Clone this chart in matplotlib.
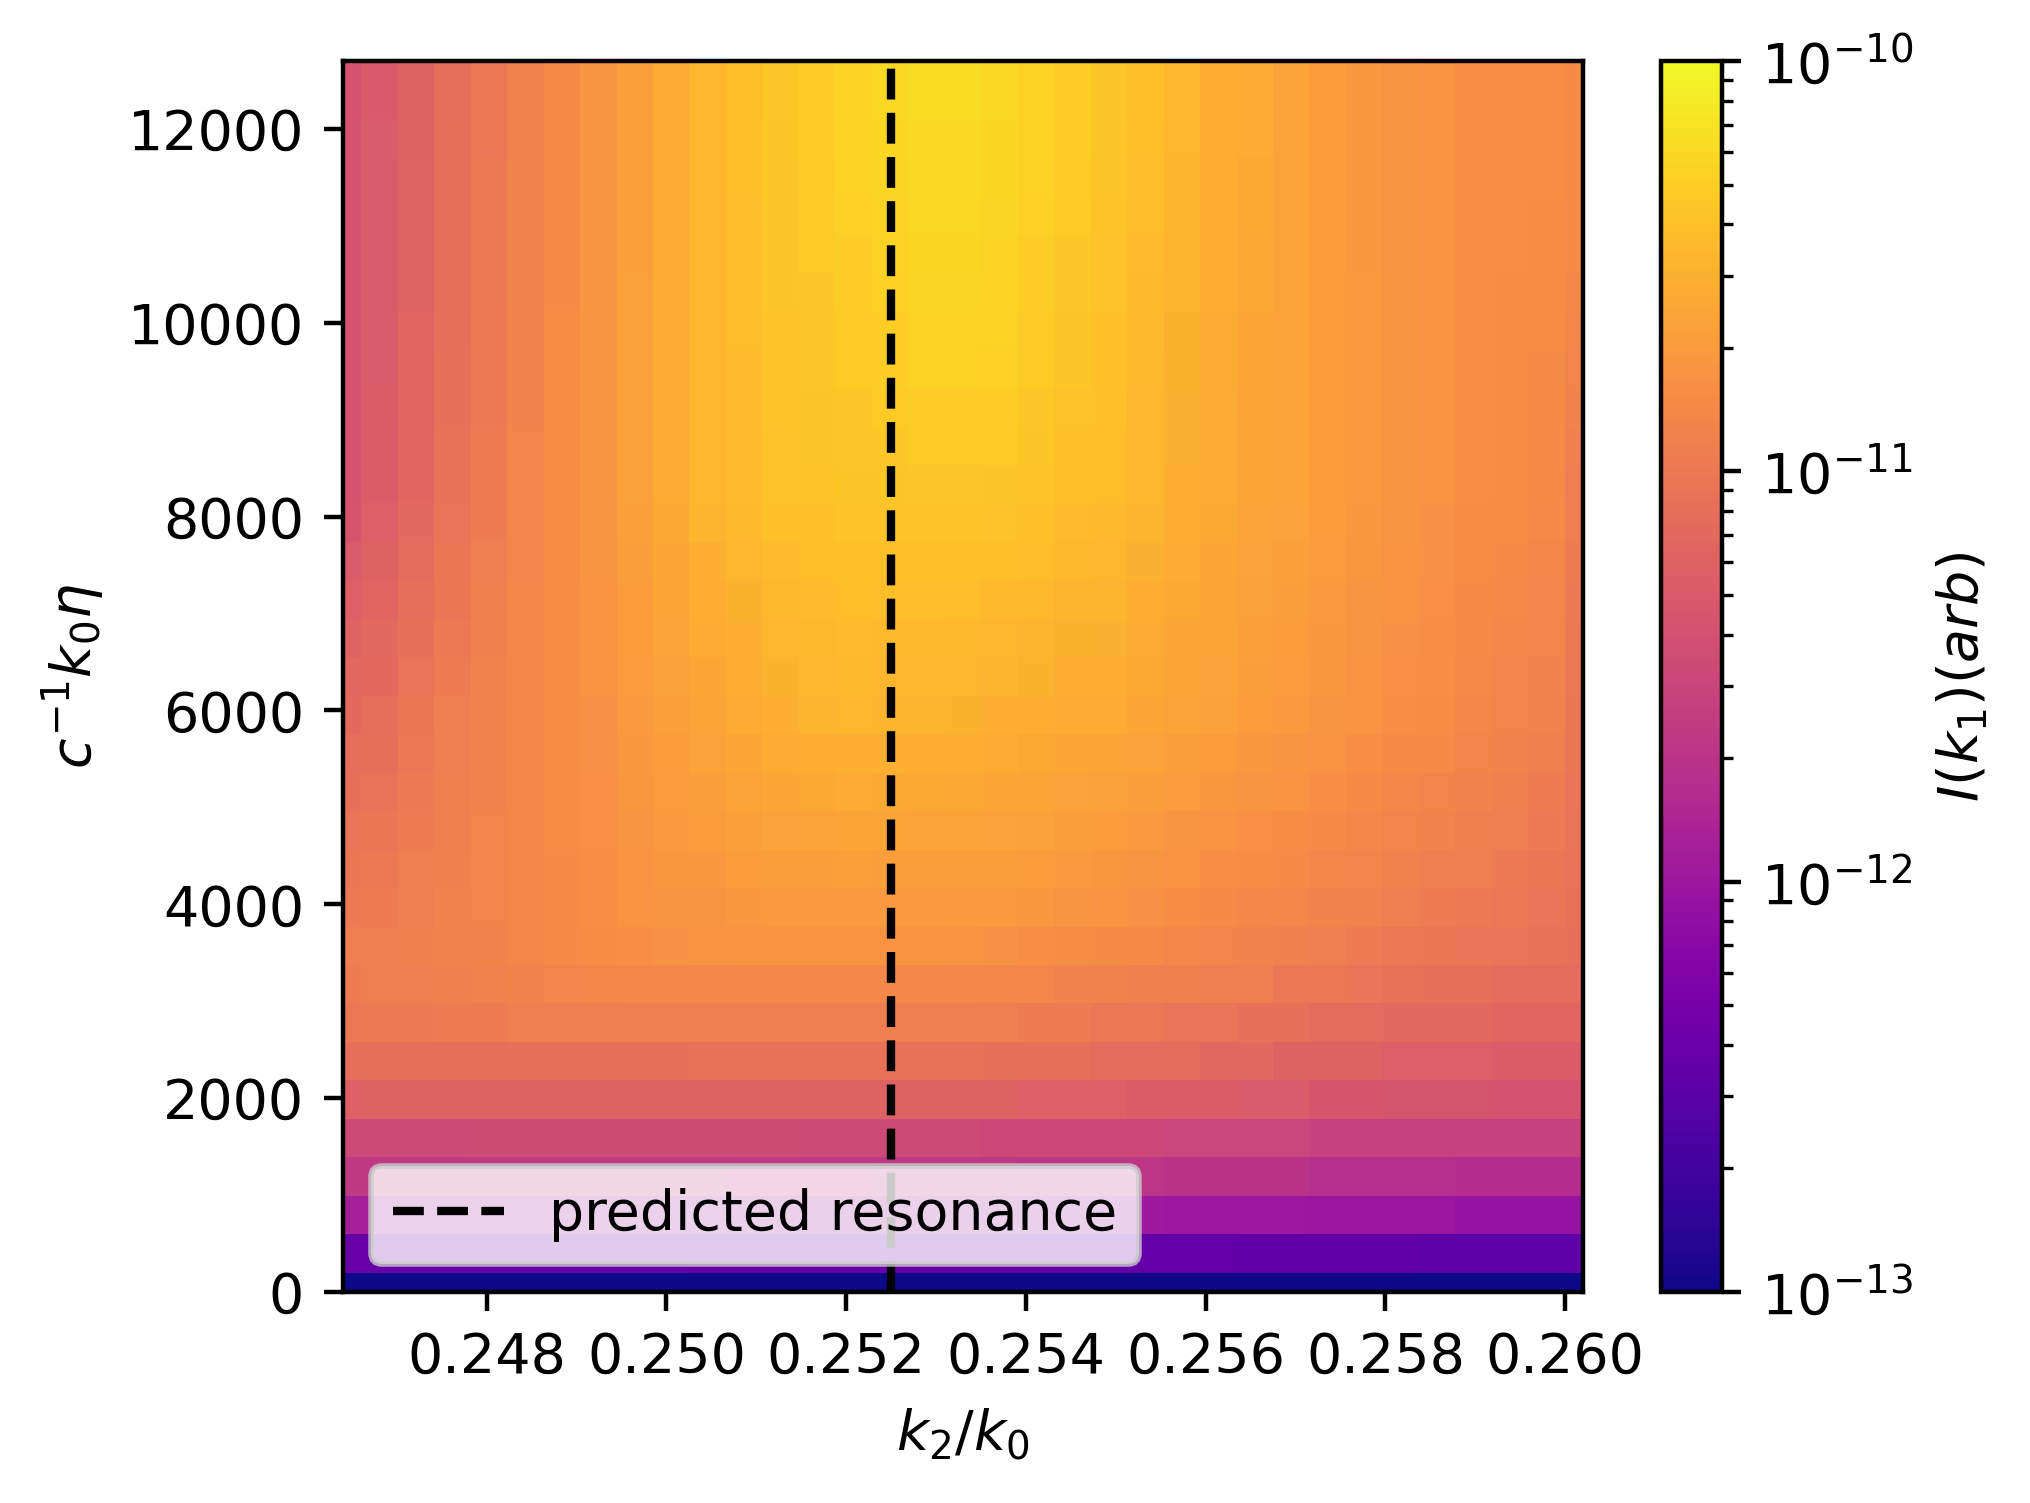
import numpy as np
import matplotlib
matplotlib.use("Agg")
import matplotlib.pyplot as plt
from matplotlib.colors import LogNorm

# x: k2/k0 cell centres, y: c^-1 k0 eta cell centres
k2_over_k0 = [0.246400, 0.246806, 0.247212, 0.247618, 0.248024, 0.248429, 0.248835,
              0.249241, 0.249647, 0.250053, 0.250459, 0.250865, 0.251271, 0.251676,
              0.252082, 0.252488, 0.252894, 0.253300, 0.253706, 0.254112, 0.254518,
              0.254924, 0.255329, 0.255735, 0.256141, 0.256547, 0.256953, 0.257359,
              0.257765, 0.258171, 0.258576, 0.258982, 0.259388, 0.259794, 0.260200]
eta = [0, 397, 794, 1191, 1588, 1984, 2381, 2778, 3175, 3572, 3969, 4366, 4763,
       5159, 5556, 5953, 6350, 6747, 7144, 7541, 7938, 8334, 8731, 9128, 9525,
       9922, 10319, 10716, 11113, 11509, 11906, 12303, 12700]

predicted_resonance = 0.2525

# log10 of intensity I(k1), one row per eta value (bottom to top)
log10_I = [
    [-13.0] * 35,
    [-12.43] * 10 + [-12.44] * 7 + [-12.46] * 8 + [-12.47] * 5 + [-12.49] * 5,
    [-11.92] * 6 + [-11.94] * 5 + [-11.95] * 4 + [-11.96] + [-11.95] * 3 + [-11.97] * 4
    + [-12.00] * 4 + [-12.01] * 4 + [-12.04] * 4,
    [-11.64] * 11 + [-11.65] * 4 + [-11.66] * 4 + [-11.68] * 4 + [-11.71] * 4
    + [-11.75] * 4 + [-11.77] * 4,
    [-11.47] * 4 + [-11.46] * 9 + [-11.47] * 5 + [-11.49] * 5 + [-11.52] * 4
    + [-11.55] * 4 + [-11.56] * 4,
    [-11.25] + [-11.23] * 4 + [-11.22] * 9 + [-11.23] * 5 + [-11.25] * 3 + [-11.28] * 3
    + [-11.29] * 2 + [-11.34] * 2 + [-11.37] * 3 + [-11.38] * 3,
    [-11.10] * 5 + [-11.08] * 5 + [-11.07] * 8 + [-11.08] * 3 + [-11.13] * 3
    + [-11.17] * 2 + [-11.22] * 3 + [-11.26] * 3 + [-11.28] * 3,
    [-11.01] + [-10.99] * 2 + [-10.98] * 2 + [-10.96] * 14 + [-10.98] * 2 + [-11.01] * 2
    + [-11.05] * 2 + [-11.08] * 2 + [-11.13] * 2 + [-11.16] * 3 + [-11.19] * 3,
    [-10.98, -10.96, -10.95, -10.93, -10.92, -10.90, -10.89, -10.87] + [-10.86] * 10
    + [-10.87] * 2 + [-10.90] * 2 + [-10.93] * 2 + [-10.96] * 2 + [-11.01] * 2
    + [-11.04, -11.07, -11.08, -11.08, -11.13, -11.13, -11.13],
    [-10.96, -10.95, -10.93, -10.92, -10.90, -10.87, -10.84, -10.81, -10.80, -10.78,
     -10.77, -10.76, -10.76, -10.76, -10.76, -10.76, -10.76, -10.77, -10.78, -10.80,
     -10.81, -10.83, -10.84, -10.87, -10.89, -10.90, -10.93, -10.95, -10.98, -11.01,
     -11.02, -11.04, -11.05, -11.07, -11.08],
    [-10.99, -10.98, -10.95, -10.92, -10.89, -10.86, -10.83, -10.80, -10.77, -10.75,
     -10.74, -10.72, -10.71, -10.71, -10.71, -10.71, -10.71, -10.71, -10.71, -10.72,
     -10.75, -10.77, -10.78, -10.81, -10.84, -10.86, -10.87, -10.90, -10.92, -10.95,
     -10.98, -10.99, -11.01, -11.04, -11.07],
    [-11.02, -11.00, -10.96, -10.93, -10.89, -10.86, -10.83, -10.80, -10.76, -10.73,
     -10.72, -10.69, -10.67, -10.67, -10.66, -10.67, -10.67, -10.67, -10.67, -10.68,
     -10.71, -10.73, -10.74, -10.77, -10.80, -10.82, -10.84, -10.87, -10.89, -10.92,
     -10.95, -10.96, -10.99, -11.02, -11.06],
    [-11.05, -11.03, -10.98, -10.94, -10.89, -10.86, -10.82, -10.79, -10.75, -10.71,
     -10.69, -10.66, -10.64, -10.63, -10.62, -10.62, -10.63, -10.63, -10.64, -10.65,
     -10.67, -10.69, -10.71, -10.74, -10.76, -10.79, -10.81, -10.84, -10.86, -10.89,
     -10.91, -10.94, -10.96, -10.99, -11.05],
    [-11.08, -11.06, -10.99, -10.94, -10.90, -10.86, -10.82, -10.79, -10.73, -10.70,
     -10.67, -10.63, -10.60, -10.58, -10.57, -10.58, -10.58, -10.59, -10.60, -10.61,
     -10.64, -10.65, -10.67, -10.70, -10.73, -10.75, -10.77, -10.80, -10.83, -10.86,
     -10.88, -10.91, -10.94, -10.97, -11.04],
    [-11.11, -11.09, -11.01, -10.95, -10.90, -10.86, -10.81, -10.78, -10.72, -10.68,
     -10.64, -10.60, -10.57, -10.54, -10.53, -10.53, -10.54, -10.55, -10.57, -10.58,
     -10.60, -10.61, -10.64, -10.67, -10.69, -10.72, -10.74, -10.77, -10.80, -10.83,
     -10.84, -10.89, -10.91, -10.94, -11.03],
    [-11.14, -11.11, -11.02, -10.96, -10.90, -10.86, -10.81, -10.78, -10.71, -10.66,
     -10.62, -10.57, -10.53, -10.50, -10.48, -10.49, -10.50, -10.51, -10.53, -10.54,
     -10.56, -10.57, -10.60, -10.63, -10.65, -10.68, -10.71, -10.74, -10.77, -10.80,
     -10.81, -10.86, -10.89, -10.92, -11.02],
    [-11.17, -11.14, -11.05, -10.98, -10.91, -10.86, -10.81, -10.77, -10.70, -10.65,
     -10.60, -10.55, -10.51, -10.48, -10.46, -10.47, -10.48, -10.48, -10.50, -10.51,
     -10.54, -10.55, -10.58, -10.61, -10.64, -10.67, -10.70, -10.73, -10.76, -10.79,
     -10.80, -10.85, -10.88, -10.91, -11.01],
    [-11.21, -11.17, -11.08, -11.00, -10.93, -10.87, -10.81, -10.77, -10.69, -10.63,
     -10.57, -10.53, -10.48, -10.46, -10.44, -10.45, -10.45, -10.46, -10.47, -10.49,
     -10.51, -10.52, -10.56, -10.60, -10.62, -10.66, -10.68, -10.72, -10.75, -10.78,
     -10.80, -10.84, -10.86, -10.89, -11.00],
    [-11.26, -11.20, -11.11, -11.02, -10.94, -10.87, -10.81, -10.76, -10.68, -10.62,
     -10.55, -10.51, -10.46, -10.44, -10.42, -10.43, -10.43, -10.43, -10.45, -10.46,
     -10.49, -10.50, -10.54, -10.58, -10.61, -10.65, -10.67, -10.71, -10.74, -10.77,
     -10.79, -10.83, -10.85, -10.88, -10.99],
    [-11.30, -11.22, -11.13, -11.03, -10.95, -10.88, -10.81, -10.75, -10.67, -10.60,
     -10.53, -10.48, -10.44, -10.42, -10.40, -10.40, -10.40, -10.40, -10.42, -10.43,
     -10.46, -10.47, -10.52, -10.56, -10.60, -10.64, -10.66, -10.70, -10.73, -10.76,
     -10.78, -10.82, -10.84, -10.87, -10.97],
    [-11.35, -11.25, -11.16, -11.05, -10.97, -10.88, -10.81, -10.75, -10.66, -10.59,
     -10.50, -10.46, -10.41, -10.40, -10.38, -10.38, -10.38, -10.38, -10.39, -10.41,
     -10.44, -10.45, -10.50, -10.55, -10.58, -10.63, -10.64, -10.69, -10.72, -10.75,
     -10.78, -10.81, -10.82, -10.85, -10.96],
    [-11.38, -11.28, -11.19, -11.07, -10.98, -10.89, -10.81, -10.74, -10.65, -10.57,
     -10.48, -10.44, -10.39, -10.38, -10.36, -10.36, -10.35, -10.35, -10.36, -10.38,
     -10.41, -10.42, -10.48, -10.53, -10.57, -10.62, -10.63, -10.68, -10.71, -10.74,
     -10.77, -10.80, -10.81, -10.84, -10.95],
    [-11.38, -11.28, -11.19, -11.07, -10.98, -10.89, -10.81, -10.74, -10.65, -10.57,
     -10.48, -10.44, -10.39, -10.37, -10.35, -10.34, -10.32, -10.32, -10.33, -10.36,
     -10.40, -10.42, -10.47, -10.52, -10.57, -10.61, -10.63, -10.68, -10.71, -10.74,
     -10.77, -10.80, -10.81, -10.84, -10.93],
    [-11.38, -11.28, -11.20, -11.08, -10.99, -10.90, -10.82, -10.74, -10.65, -10.57,
     -10.48, -10.44, -10.38, -10.36, -10.34, -10.33, -10.30, -10.30, -10.31, -10.35,
     -10.39, -10.41, -10.47, -10.52, -10.56, -10.61, -10.63, -10.68, -10.71, -10.74,
     -10.77, -10.80, -10.81, -10.83, -10.91],
    [-11.38, -11.29, -11.20, -11.08, -10.99, -10.90, -10.82, -10.74, -10.65, -10.57,
     -10.48, -10.44, -10.38, -10.35, -10.33, -10.31, -10.28, -10.28, -10.29, -10.33,
     -10.37, -10.41, -10.46, -10.51, -10.56, -10.60, -10.63, -10.68, -10.71, -10.74,
     -10.77, -10.80, -10.81, -10.83, -10.89],
    [-11.38, -11.29, -11.20, -11.09, -10.99, -10.90, -10.82, -10.74, -10.65, -10.57,
     -10.48, -10.43, -10.38, -10.35, -10.32, -10.30, -10.26, -10.26, -10.28, -10.32,
     -10.36, -10.40, -10.45, -10.51, -10.56, -10.60, -10.63, -10.68, -10.71, -10.74,
     -10.77, -10.80, -10.81, -10.82, -10.87],
    [-11.38, -11.29, -11.21, -11.09, -11.00, -10.91, -10.83, -10.74, -10.65, -10.57,
     -10.48, -10.43, -10.37, -10.34, -10.31, -10.29, -10.25, -10.25, -10.27, -10.31,
     -10.35, -10.39, -10.45, -10.50, -10.55, -10.59, -10.63, -10.68, -10.71, -10.74,
     -10.77, -10.80, -10.81, -10.82, -10.86],
    [-11.38, -11.30, -11.21, -11.09, -11.00, -10.91, -10.83, -10.75, -10.66, -10.57,
     -10.47, -10.43, -10.37, -10.33, -10.30, -10.27, -10.24, -10.24, -10.26, -10.30,
     -10.34, -10.39, -10.44, -10.50, -10.55, -10.59, -10.63, -10.68, -10.72, -10.74,
     -10.77, -10.80, -10.80, -10.81, -10.84],
    [-11.38, -11.30, -11.21, -11.10, -11.00, -10.91, -10.83, -10.75, -10.66, -10.57,
     -10.47, -10.43, -10.36, -10.33, -10.29, -10.26, -10.23, -10.23, -10.25, -10.29,
     -10.33, -10.38, -10.43, -10.49, -10.55, -10.58, -10.63, -10.68, -10.72, -10.74,
     -10.77, -10.80, -10.80, -10.81, -10.84],
    [-11.38, -11.30, -11.21, -11.10, -11.00, -10.91, -10.83, -10.75, -10.66, -10.57,
     -10.47, -10.42, -10.36, -10.32, -10.28, -10.25, -10.22, -10.22, -10.24, -10.28,
     -10.32, -10.37, -10.43, -10.49, -10.55, -10.58, -10.63, -10.68, -10.72, -10.74,
     -10.77, -10.80, -10.80, -10.80, -10.84],
    [-11.38, -11.30, -11.22, -11.10, -11.01, -10.92, -10.84, -10.75, -10.66, -10.57,
     -10.47, -10.42, -10.36, -10.31, -10.27, -10.24, -10.22, -10.22, -10.24, -10.28,
     -10.31, -10.37, -10.42, -10.48, -10.54, -10.57, -10.63, -10.68, -10.72, -10.74,
     -10.77, -10.80, -10.80, -10.80, -10.84],
    [-11.38, -11.31, -11.22, -11.11, -11.01, -10.92, -10.84, -10.75, -10.66, -10.57,
     -10.47, -10.42, -10.35, -10.31, -10.26, -10.23, -10.21, -10.21, -10.23, -10.27,
     -10.30, -10.36, -10.41, -10.47, -10.54, -10.57, -10.63, -10.68, -10.72, -10.74,
     -10.77, -10.80, -10.80, -10.80, -10.84],
    [-11.38, -11.31, -11.22, -11.11, -11.01, -10.92, -10.84, -10.75, -10.66, -10.57,
     -10.47, -10.42, -10.35, -10.30, -10.26, -10.23, -10.21, -10.21, -10.23, -10.27,
     -10.30, -10.36, -10.41, -10.47, -10.54, -10.57, -10.63, -10.68, -10.72, -10.74,
     -10.77, -10.80, -10.80, -10.80, -10.83],
]

intensity = 10.0 ** np.array(log10_I)

W, H, DPI = 2031, 1503, 400
fig = plt.figure(figsize=(W / DPI, H / DPI), dpi=DPI)
ax = fig.add_axes([343 / W, 1 - 1292 / H, 1240 / W, 1231 / H])
cax = fig.add_axes([1661 / W, 1 - 1292 / H, 61 / W, 1231 / H])

mesh = ax.pcolormesh(k2_over_k0, eta, intensity, shading="nearest",
                     cmap="plasma", norm=LogNorm(vmin=1e-13, vmax=1e-10))
ax.axvline(predicted_resonance, color="black", linestyle="--", linewidth=1.5,
           label="predicted resonance")
ax.set_xlim(k2_over_k0[0], k2_over_k0[-1])
ax.set_ylim(eta[0], eta[-1])
ax.set_xticks([0.248, 0.250, 0.252, 0.254, 0.256, 0.258, 0.260])
ax.set_yticks([0, 2000, 4000, 6000, 8000, 10000, 12000])
ax.set_xlabel(r"$k_2/k_0$")
ax.set_ylabel(r"$c^{-1}k_0\eta$")
ax.legend(loc="lower left")

cb = fig.colorbar(mesh, cax=cax)
cb.set_label(r"$I(k_1)(arb)$")

fig.savefig("out.png", dpi=DPI)
